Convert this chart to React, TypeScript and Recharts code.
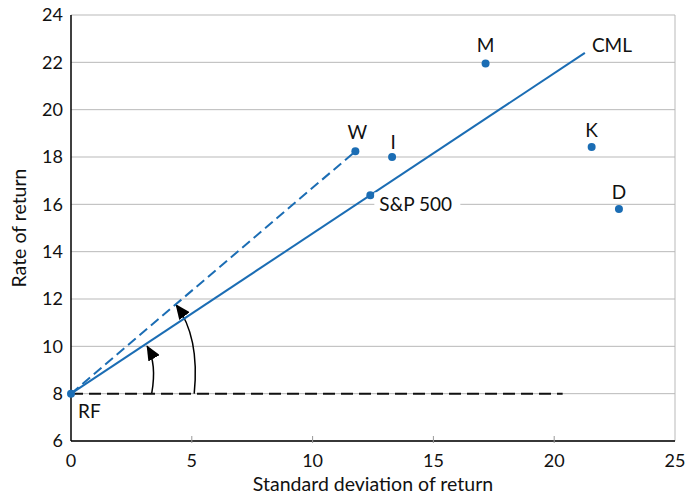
import {
  ComposedChart,
  Scatter,
  XAxis,
  YAxis,
  CartesianGrid,
  ReferenceLine,
  Customized,
} from "recharts";

// values
const portfolios = ["RF", "W", "I", "M", "K", "D", "S&P 500"];
const sdValues = [0, 11.77, 13.29, 17.16, 21.55, 22.68, 12.39];
const returnValues = [8, 18.24, 18.0, 21.95, 18.42, 15.8, 16.38];

const cmlSd = [0, 21.27];
const cmlReturn = [8, 22.4];
const wLineSd = [0, 11.77];
const wLineReturn = [8, 18.24];
const rfLineSd = [0, 20.35];
const rfLineReturn = [8, 8];

const xTicks = [0, 5, 10, 15, 20, 25];
const yTicks = [6, 8, 10, 12, 14, 16, 18, 20, 22, 24];

const BLUE = "#1b6db4";
const GRID = "#b9b9b9";
const FONT = "Lato, 'Open Sans', sans-serif";

const W = 686;
const H = 500;
const MARGIN = { top: 15, right: 11, bottom: 0, left: 21 };
const Y_AXIS_W = 50;
const X_AXIS_H = 59;

const plotLeft = MARGIN.left + Y_AXIS_W;
const plotTop = MARGIN.top;
const plotW = W - plotLeft - MARGIN.right;
const plotH = H - plotTop - MARGIN.bottom - X_AXIS_H;
const sx = (v: number) => plotLeft + (v / 25) * plotW;
const sy = (v: number) => plotTop + ((24 - v) / 18) * plotH;

const toRows = (xs: number[], ys: number[], names?: string[]) =>
  xs.map((x, i) => ({ x, y: ys[i], name: names ? names[i] : "" }));

const points = toRows(sdValues, returnValues, portfolios);
const cml = toRows(cmlSd, cmlReturn);
const wLine = toRows(wLineSd, wLineReturn);
const rfLine = toRows(rfLineSd, rfLineReturn);

// where each label sits relative to its dot
const labelPos: Record<string, { dx: number; dy: number; anchor: string }> = {
  RF: { dx: 7, dy: 17, anchor: "start" },
  W: { dx: 2, dy: -20, anchor: "middle" },
  I: { dx: 1, dy: -16, anchor: "middle" },
  M: { dx: 0, dy: -19, anchor: "middle" },
  K: { dx: 0, dy: -18, anchor: "middle" },
  D: { dx: 0, dy: -18, anchor: "middle" },
  "S&P 500": { dx: 9, dy: 8, anchor: "start" },
};

const Dot = (props: any) => {
  const { cx, cy, payload } = props;
  const p = labelPos[payload.name];
  return (
    <g>
      <circle cx={cx} cy={cy} r={4} fill={BLUE} />
      {payload.name === "S&P 500" && (
        <rect x={cx + 4} y={cy - 3} width={86} height={22} fill="#fff" />
      )}
      <text
        x={cx + p.dx}
        y={cy + p.dy}
        textAnchor={p.anchor as any}
        dominantBaseline="central"
        fontSize={19}
        fontFamily={FONT}
        fill="#111"
      >
        {payload.name}
      </text>
    </g>
  );
};

const NoShape = () => <g />;

const XTick = (props: any) => {
  const { x, y, payload } = props;
  const v = payload.value;
  return (
    <g>
      {v > 0 && v < 25 && <line x1={x} x2={x} y1={y - 7} y2={y} stroke="#999" />}
      <text x={x} y={y + 24} textAnchor="middle" fontSize={18} fontFamily={FONT} fill="#111">
        {v}
      </text>
    </g>
  );
};

// curved angle arrows, in data units
const arrows = [
  [[3.34, 8.0], [3.44, 8.58], [3.48, 9.42], [3.15, 10.01]],
  [[5.1, 8.0], [5.22, 9.23], [5.13, 10.69], [4.35, 11.75]],
];

const Arrows = () => (
  <g>
    <defs>
      <marker
        id="head"
        markerUnits="userSpaceOnUse"
        markerWidth={15}
        markerHeight={13}
        refX={14}
        refY={6.5}
        orient="auto"
      >
        <path d="M0,0 L15,6.5 L0,13 z" fill="#000" />
      </marker>
    </defs>
    {arrows.map((a, i) => {
      const [p0, c1, c2, p3] = a;
      const d = `M${sx(p0[0])},${sy(p0[1])} C${sx(c1[0])},${sy(c1[1])} ${sx(c2[0])},${sy(c2[1])} ${sx(p3[0])},${sy(p3[1])}`;
      return <path key={i} d={d} fill="none" stroke="#000" strokeWidth={1.5} markerEnd="url(#head)" />;
    })}
    <text
      x={sx(cmlSd[1]) + 7}
      y={sy(cmlReturn[1]) - 8}
      dominantBaseline="central"
      fontSize={19}
      fontFamily={FONT}
      fill="#111"
    >
      CML
    </text>
  </g>
);

const YTitle = () => {
  const cx = 18;
  const cy = plotTop + plotH / 2;
  return (
    <text
      x={cx}
      y={cy}
      transform={`rotate(-90 ${cx} ${cy})`}
      textAnchor="middle"
      dominantBaseline="central"
      fontSize={19.5}
      fontFamily={FONT}
      fill="#111"
    >
      Rate of return
    </text>
  );
};

const XTitle = () => (
  <text
    x={plotLeft + plotW / 2}
    y={491}
    textAnchor="middle"
    fontSize={19.5}
    fontFamily={FONT}
    fill="#111"
  >
    Standard deviation of return
  </text>
);

const App = () => {
  return (
    <div style={{ position: "absolute", left: 0, top: 0, background: "#fff" }}>
      <ComposedChart width={W} height={H} margin={MARGIN}>
        <CartesianGrid horizontal vertical={false} stroke={GRID} />
        <ReferenceLine x={25} stroke={GRID} />
        <XAxis
          type="number"
          dataKey="x"
          domain={[0, 25]}
          ticks={xTicks}
          height={X_AXIS_H}
          tickSize={0}
          tickLine={false}
          axisLine={{ stroke: "#000", strokeWidth: 1.5 }}
          tick={<XTick />}
          label={<XTitle />}
        />
        <YAxis
          type="number"
          dataKey="y"
          domain={[6, 24]}
          ticks={yTicks}
          width={Y_AXIS_W}
          tickSize={0}
          tickMargin={8}
          tickLine={false}
          axisLine={{ stroke: "#000", strokeWidth: 1.5 }}
          tick={{ fill: "#111", fontSize: 18, fontFamily: FONT }}
          label={<YTitle />}
        />
        <Scatter
          data={rfLine}
          line={{ stroke: "#111", strokeWidth: 2, strokeDasharray: "12 6" }}
          shape={NoShape}
          isAnimationActive={false}
        />
        <Scatter
          data={wLine}
          line={{ stroke: BLUE, strokeWidth: 2, strokeDasharray: "10 5" }}
          shape={NoShape}
          isAnimationActive={false}
        />
        <Scatter
          data={cml}
          line={{ stroke: BLUE, strokeWidth: 2 }}
          shape={NoShape}
          isAnimationActive={false}
        />
        <Customized component={Arrows} />
        <Scatter data={points} shape={Dot} isAnimationActive={false} />
      </ComposedChart>
    </div>
  );
};

export default App;
